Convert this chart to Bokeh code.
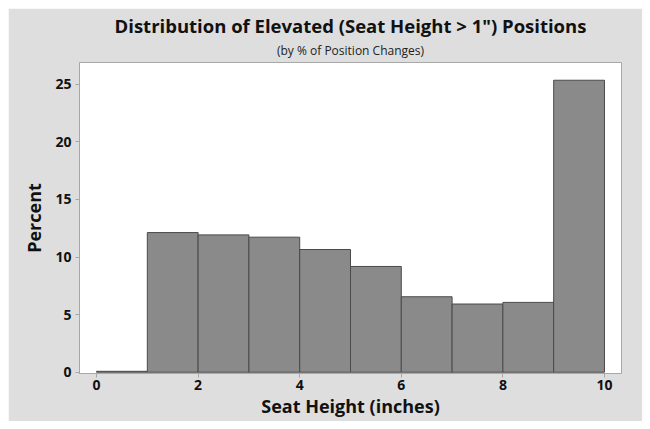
from bokeh.plotting import figure
from bokeh.models import ColumnDataSource, Title, Range1d, FixedTicker, Spacer
from bokeh.layouts import column, row
from bokeh.embed import file_html
from bokeh.resources import INLINE

# Data
bin_left = [0, 1, 2, 3, 4, 5, 6, 7, 8, 9]
bin_right = [1, 2, 3, 4, 5, 6, 7, 8, 9, 10]
percent = [0.08, 12.12, 11.92, 11.72, 10.65, 9.18, 6.55, 5.92, 6.06, 25.34]
x_ticks = [0, 2, 4, 6, 8, 10]
y_ticks = [0, 5, 10, 15, 20, 25]

title_text = 'Distribution of Elevated (Seat Height > 1") Positions'
subtitle_text = '(by % of Position Changes)'
x_label = 'Seat Height (inches)'
y_label = 'Percent'

BG = "#dedede"
FONT = "Open Sans"

src = ColumnDataSource(dict(left=bin_left, right=bin_right, top=percent,
                            bottom=[0] * len(percent)))

p = figure(width=634, height=413, output_backend="svg", toolbar_location=None,
           x_range=Range1d(-0.335, 10.335), y_range=Range1d(-0.11, 26.88),
           min_border_left=71, min_border_right=21, min_border_top=54,
           min_border_bottom=48)
p.background_fill_color = "white"
p.border_fill_color = BG
p.outline_line_color = "#a8a8a8"
p.outline_line_width = 1
p.grid.visible = False

p.quad(left="left", right="right", top="top", bottom="bottom", source=src,
       fill_color="#8a8a8a", line_color="#4a4a4a", line_width=1)

sub = Title(text=subtitle_text, align="center", text_font=FONT,
            text_font_size="12px", text_font_style="normal", text_color="#222222",
            standoff=7, offset=0)
main = Title(text=title_text, align="center", text_font=FONT,
             text_font_size="18.5px", text_font_style="bold", text_color="#111111",
             standoff=-2)
p.title.visible = False
p.add_layout(sub, "above")
p.add_layout(main, "above")

for ax in (p.xaxis[0], p.yaxis[0]):
    ax.axis_line_color = "#a8a8a8"
    ax.major_tick_line_color = "#a8a8a8"
    ax.major_tick_out = 4
    ax.major_tick_in = 0
    ax.minor_tick_line_color = None
    ax.major_label_text_font = FONT
    ax.major_label_text_font_size = "14px"
    ax.major_label_text_font_style = "bold"
    ax.major_label_text_color = "#111111"
    ax.axis_label_text_font = FONT
    ax.axis_label_text_font_size = "18px"
    ax.axis_label_text_font_style = "bold"
    ax.axis_label_text_color = "#111111"

p.xaxis[0].ticker = FixedTicker(ticks=x_ticks)
p.yaxis[0].ticker = FixedTicker(ticks=y_ticks)
p.xaxis[0].axis_label = x_label
p.yaxis[0].axis_label = y_label
p.xaxis[0].major_label_standoff = 2
p.yaxis[0].major_label_standoff = 4
p.xaxis[0].axis_label_standoff = 1
p.yaxis[0].axis_label_standoff = 6

layout = column(Spacer(height=8, width=642),
                row(Spacer(width=8, height=413), p, spacing=0),
                spacing=0)

open("out.html", "w").write(file_html(layout, INLINE))
